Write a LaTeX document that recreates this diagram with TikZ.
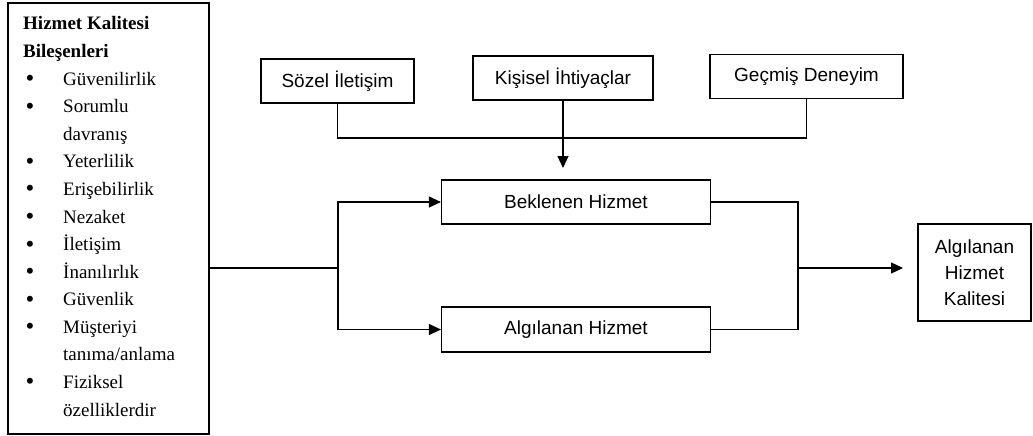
\documentclass[tikz,border=0pt]{standalone}
\usepackage{fontspec}
\setmainfont{Liberation Serif}
\newfontfamily\arialf{Liberation Sans}
\usetikzlibrary{arrows.meta}
\begin{document}
\begin{tikzpicture}[x=1pt,y=-1pt,
  box/.style={draw, line width=1.2pt, inner sep=0pt, align=center,
    font=\arialf\fontsize{19}{26}\selectfont},
  conn/.style={line width=1.2pt},
  arr/.style={conn, -{Triangle[length=12pt,width=11pt]}},
  lt/.style={anchor=base west, inner sep=0pt, font=\fontsize{19}{23}\selectfont},
  bt/.style={anchor=base, inner sep=0pt, yshift=-1.5pt, font=\fontsize{25}{23}\selectfont},
]
\useasboundingbox (0,0) rectangle (1033,436);

% left list box
\node[draw, line width=1.2pt, minimum width=201pt, minimum height=431pt, inner sep=0pt] (lbox) at (108.5,218.5) {};
\node[lt, font=\fontsize{19}{23}\selectfont\bfseries] (t0) at (23,30) {Hizmet Kalitesi};
\node[lt, font=\fontsize{19}{23}\selectfont\bfseries] (t1) at (23,57.6) {Bileşenleri};
\node[bt] (b2) at (30,85.1) {\textbullet};
\node[lt] (t2) at (63,85.1) {Güvenilirlik};
\node[bt] (b3) at (30,112.7) {\textbullet};
\node[lt] (t3) at (63,112.7) {Sorumlu};
\node[lt] (t4) at (63,140.3) {davranış};
\node[bt] (b5) at (30,167.9) {\textbullet};
\node[lt] (t5) at (63,167.9) {Yeterlilik};
\node[bt] (b6) at (30,195.4) {\textbullet};
\node[lt] (t6) at (63,195.4) {Erişebilirlik};
\node[bt] (b7) at (30,223) {\textbullet};
\node[lt] (t7) at (63,223) {Nezaket};
\node[bt] (b8) at (30,250.6) {\textbullet};
\node[lt] (t8) at (63,250.6) {İletişim};
\node[bt] (b9) at (30,278.1) {\textbullet};
\node[lt] (t9) at (63,278.1) {İnanılırlık};
\node[bt] (b10) at (30,305.7) {\textbullet};
\node[lt] (t10) at (63,305.7) {Güvenlik};
\node[bt] (b11) at (30,333.3) {\textbullet};
\node[lt] (t11) at (63,333.3) {Müşteriyi};
\node[lt] (t12) at (63,360.8) {tanıma/anlama};
\node[bt] (b13) at (30,388.4) {\textbullet};
\node[lt] (t13) at (63,388.4) {Fiziksel};
\node[lt] (t14) at (63,416) {özelliklerdir};

% top boxes
\node[box, minimum width=153pt, minimum height=44pt] (soz) at (337.5,81) {Sözel İletişim};
\node[box, minimum width=180pt, minimum height=44pt] (kis) at (563,78) {Kişisel İhtiyaçlar};
\node[box, minimum width=193pt, minimum height=44pt] (gec) at (806.5,76.5) {Geçmiş Deneyim};

% middle boxes
\node[box, minimum width=269pt, minimum height=44pt] (bek) at (576,202) {Beklenen Hizmet};
\node[box, minimum width=269pt, minimum height=45pt] (alg) at (576,329.5) {Algılanan Hizmet};

% final box
\node[box, minimum width=113pt, minimum height=97pt] (fin) at (974.5,272.5) {Algılanan\\Hizmet\\Kalitesi};

% coordinates
\coordinate (bus) at (563,138);
\coordinate (ktip) at (563,168);
\coordinate (split) at (338,268);
\coordinate (join) at (798,268);
\coordinate (ftip) at (903,268);

% connectors
\draw[conn] (soz.south) |- (bus) -| (gec.south);
\draw[arr] (kis.south) -- (ktip);
\draw[conn] (lbox.east |- split) -- (split);
\draw[arr] (split) |- (bek.west);
\draw[arr] (split) |- (alg.west);
\draw[conn] (bek.east) -| (join);
\draw[conn] (alg.east) -| (join);
\draw[arr] (join) -- (ftip);
\end{tikzpicture}
\end{document}
